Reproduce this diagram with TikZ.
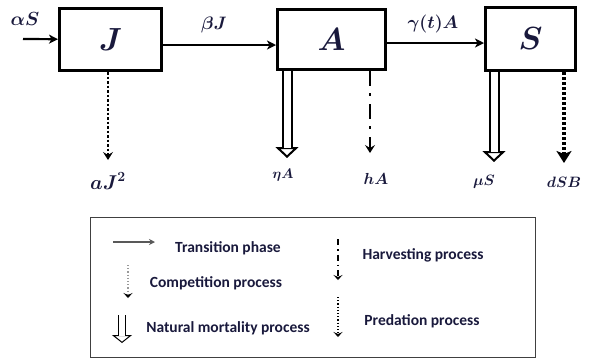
\RequirePackage{fix-cm}
\documentclass[tikz,border=0pt]{standalone}
\usepackage{amsmath}
\usepackage{bm}
\usepackage{fontspec}
\newfontfamily\legfont{Carlito}
\usetikzlibrary{arrows.meta}
\definecolor{ink}{RGB}{25,25,60}
\tikzset{block/.style = {draw, fill=white, line width=3pt, rectangle, inner sep=0pt, text=ink, font=\fontsize{32}{38}\selectfont},
         flow/.style = {line width=2.2pt, -{Stealth[length=9pt, width=9pt, inset=2.5pt]}},
         comp/.style = {line width=2.5pt, dotted, -{Stealth[length=8pt, width=10pt, inset=3pt]}},
         harv/.style = {line width=2.5pt, dash pattern=on 15pt off 7pt on 3pt off 8pt, -{Stealth[length=8pt, width=10pt, inset=3pt]}},
         pred/.style = {line width=3.5pt, dash pattern=on 3pt off 2pt, -{Stealth[length=12pt, width=15pt, inset=3pt]}},
         mort/.style = {double, double distance=7pt, line width=2pt},
         morthead/.style = {line width=2pt, -{Triangle[fill=white, length=11pt, width=23pt]}},
         lbl/.style = {text=ink, inner sep=0pt},
         leg/.style = {text=ink, inner sep=0pt, font=\legfont\bfseries\fontsize{15.5}{18}\selectfont}}
\begin{document}
\begin{tikzpicture}[x=1pt,y=-1pt]
        \useasboundingbox (0,0) rectangle (594,360);
        \node[block, minimum width=102, minimum height=62](J)at(110.5,39.5){$\bm{J}$};
        \node[block, minimum width=108, minimum height=60](A)at(331.5,39.5){$\bm{A}$};
        \node[block, minimum width=90, minimum height=63](S)at(530.5,39){$\bm{S}$};
        \coordinate(in)at(23,39);
        \draw[flow](in)--(J);
        \draw[flow]([yshift=-5.5pt]J.east)--([yshift=-5.5pt]J.east -| A.west);
        \draw[flow]([yshift=-3.5pt]A.east)--([yshift=-3.5pt]A.east -| S.west);
        \node[lbl, font=\fontsize{19}{22}\selectfont](as)at(25,19){$\bm{\alpha S}$};
        \node[lbl, font=\fontsize{18}{21}\selectfont](bj)at(214,25){$\bm{\beta J}$};
        \node[lbl, font=\fontsize{18}{21}\selectfont](ga)at(433,24){$\bm{\gamma(t)A}$};
        \coordinate(tj)at(108,160);
        \coordinate(te)at(287,158);
        \coordinate(th)at(370,153);
        \coordinate(tm)at(494,162);
        \coordinate(td)at(564,163);
        \draw[comp](J.south -| tj)--(tj);
        \draw[morthead]([yshift=13pt]te)--(te);
        \draw[mort](A.south -| te)--([yshift=10pt]te);
        \draw[harv](A.south -| th)--(th);
        \draw[morthead]([yshift=13pt]tm)--(tm);
        \draw[mort](S.south -| tm)--([yshift=10pt]tm);
        \draw[pred](S.south -| td)--(td);
        \node[lbl, font=\fontsize{20}{24}\selectfont](aj)at(108,181){$\bm{aJ}^{\bm{2}}$};
        \node[lbl, font=\fontsize{14}{17}\selectfont](ea)at(283,175){$\bm{\eta A}$};
        \node[lbl, font=\fontsize{16}{19}\selectfont](ha)at(376,179){$\bm{hA}$};
        \node[lbl, font=\fontsize{15}{18}\selectfont](ms)at(484,182){$\bm{\mu S}$};
        \node[lbl, font=\fontsize{15}{18}\selectfont](dsb)at(564,182){$\bm{dSB}$};
        \node[draw=black!75, line width=1pt, minimum width=445, minimum height=140](key)at(313,287.5){};
        \draw[line width=1.2pt, draw=black!65, -{Stealth[length=6pt, width=6pt]}](113,242)--(155,242);
        \draw[line width=1.2pt, draw=black!40, dotted, -{Stealth[length=5pt, width=9pt, inset=2pt, black]}](128,265)--(128,298);
        \draw[line width=1pt, -{Triangle[fill=white, length=8pt, width=20pt]}](122,330)--(122,343);
        \draw[double, double distance=6pt, line width=1pt](122,315)--(122,336);
        \draw[line width=1.2pt, dash pattern=on 6pt off 4pt on 1.5pt off 4pt, -{Stealth[length=5pt, width=9pt, inset=2pt]}](338,239)--(338,280);
        \draw[line width=1.2pt, dotted, -{Stealth[length=5pt, width=9pt, inset=2pt]}](338,297)--(338,337);
        \node[leg]at(228,248){Transition phase};
        \node[leg]at(216,283){Competition process};
        \node[leg]at(228,328){Natural mortality process};
        \node[leg]at(423,255){Harvesting process};
        \node[leg]at(422,321){Predation process};
    \end{tikzpicture}
\end{document}
